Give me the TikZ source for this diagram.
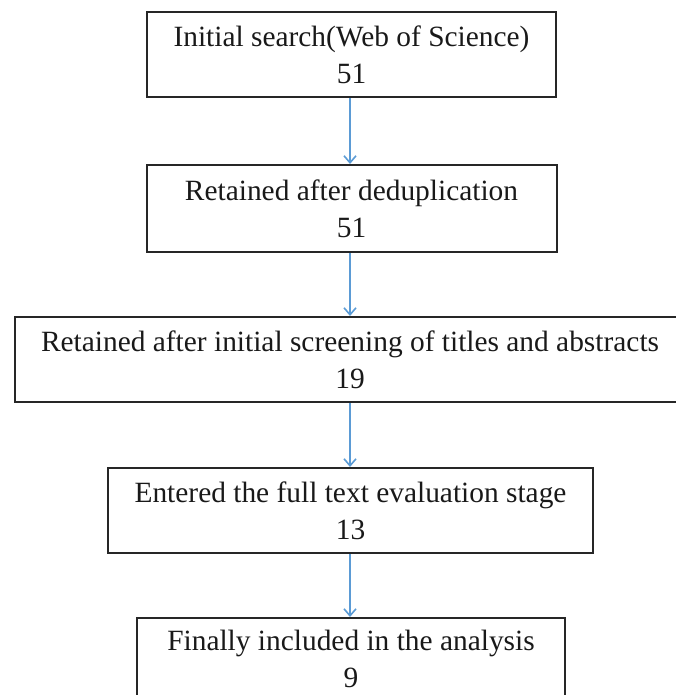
\documentclass[tikz,border=0pt]{standalone}
\usepackage{fontspec}
\setmainfont{Liberation Serif}
\usetikzlibrary{arrows.meta}
\definecolor{arrowblue}{RGB}{91,155,213}
\tikzset{
  stagebox/.style={draw=black!85, line width=2pt, align=center, inner sep=0pt,
    font=\fontsize{29.4}{37}\selectfont, text=black!90},
  flowarrow/.style={draw=arrowblue, line width=1.6pt, -{Straight Barb[length=7pt,width=12pt,line width=1.6pt]}}
}
\begin{document}
\begin{tikzpicture}[x=1pt,y=-1pt]
\useasboundingbox (0,0) rectangle (676,695);
\node[stagebox, minimum width=409pt, minimum height=85pt] (b1) at (351.5,54.5) {Initial search(Web of Science)\\51};
\node[stagebox, minimum width=410pt, minimum height=87pt] (b2) at (351.5,208.5) {Retained after deduplication\\51};
\node[stagebox, minimum width=670pt, minimum height=85pt] (b3) at (350,359.5) {Retained after initial screening of titles and abstracts\\19};
\node[stagebox, minimum width=485pt, minimum height=85pt] (b4) at (350.5,510.5) {Entered the full text evaluation stage\\13};
\node[stagebox, minimum width=428pt, minimum height=82pt] (b5) at (351,659) {Finally included in the analysis\\9};
\draw[flowarrow] (b1.south -| 350,0) -- (b2.north -| 350,0);
\draw[flowarrow] (b2.south -| 350,0) -- (b3.north -| 350,0);
\draw[flowarrow] (b3.south -| 350,0) -- (b4.north -| 350,0);
\draw[flowarrow] (b4.south -| 350,0) -- (b5.north -| 350,0);
\end{tikzpicture}
\end{document}
